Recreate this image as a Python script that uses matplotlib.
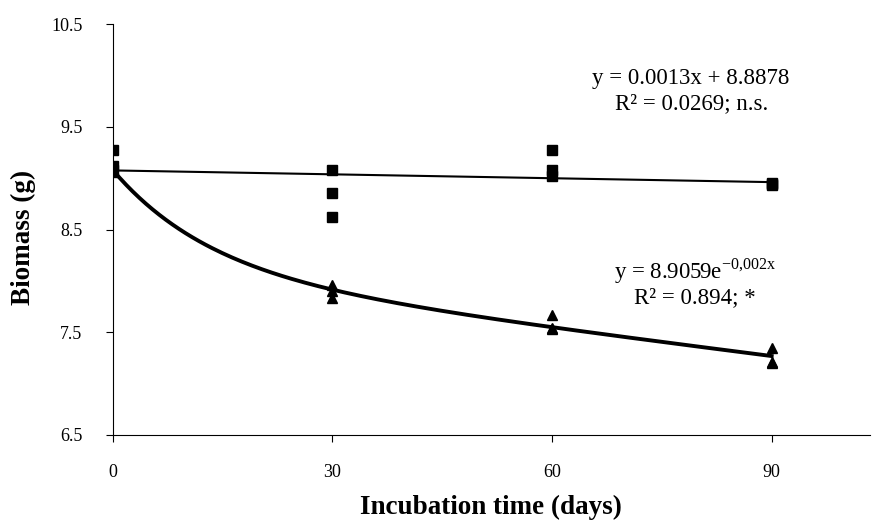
import numpy as np
import matplotlib
matplotlib.use("Agg")
import matplotlib.pyplot as plt

plt.rcParams['font.family'] = ['Liberation Serif', 'DejaVu Serif']
plt.rcParams['mathtext.fontset'] = 'custom'
plt.rcParams['mathtext.rm'] = 'Liberation Serif'

# incubation days and biomass readings (g)
days = [0, 0, 0, 30, 30, 30, 60, 60, 60, 90, 90, 90]
biomass_sq = [9.27, 9.12, 9.08, 9.08, 8.86, 8.62, 9.27, 9.08, 9.02, 8.94, 8.95, 8.93]
biomass_tri = [9.10, 9.08, 9.06, 7.96, 7.83, 7.90, 7.67, 7.54, 7.53, 7.35, 7.21, 7.20]

x_ticks = [0, 30, 60, 90]
y_ticks = [6.5, 7.5, 8.5, 9.5, 10.5]

x = np.array(days, dtype=float)
ysq = np.array(biomass_sq)
ytri = np.array(biomass_tri)

fig = plt.figure(figsize=(8.75, 5.24), dpi=100)
ax = fig.add_axes([0.129, 0.170, 0.865, 0.784])

# linear trend for squares
k, b = np.polyfit(x, ysq, 1)
xl = np.linspace(0, 90, 200)
ax.plot(xl, k * xl + b, color='black', lw=1.5, zorder=2)

# decaying trend for triangles: a + b*exp(-c x) + d*x with c fixed
c = 0.075
A = np.column_stack([np.ones_like(x), np.exp(-c * x), x])
coef = np.linalg.lstsq(A, ytri, rcond=None)[0]
ax.plot(xl, coef[0] + coef[1] * np.exp(-c * xl) + coef[2] * xl,
        color='black', lw=2.8, zorder=2)

ax.plot(x, ysq, 's', color='black', ms=7.5, zorder=3)
ax.plot(x, ytri, '^', color='black', ms=7.5, zorder=3)

ax.text(79, 9.97, 'y = 0.0013x + 8.8878', ha='center', va='center', fontsize=16.5)
ax.text(79, 9.73, 'R² = 0.0269; n.s.', ha='center', va='center', fontsize=16.5)
ax.text(79.5, 8.09, r'y = 8.9059e$^{\mathregular{-0{,}002x}}$', ha='center', va='center', fontsize=16.5)
ax.text(79.5, 7.84, 'R² = 0.894; *', ha='center', va='center', fontsize=16.5)

ax.set_xlim(0, 103.4)
ax.set_ylim(6.5, 10.5)
ax.set_xticks(x_ticks)
ax.set_yticks(y_ticks)
ax.set_yticklabels([str(v) for v in y_ticks])
ax.tick_params(labelsize=13, direction='out', length=5, color='black')
ax.tick_params(axis='x', pad=16)
ax.tick_params(axis='y', pad=17)
ax.spines['top'].set_visible(False)
ax.spines['right'].set_visible(False)
ax.set_xlabel('Incubation time (days)', fontsize=19.5, fontweight='bold')
ax.set_ylabel('Biomass (g)', fontsize=19.5, fontweight='bold')
ax.xaxis.set_label_coords(0.5, -0.145)
ax.yaxis.set_label_coords(-0.101, 0.48)

fig.savefig('out.png', dpi=100)
